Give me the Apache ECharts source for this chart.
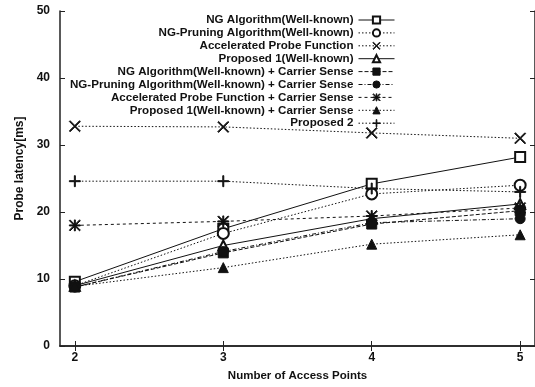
<!DOCTYPE html>
<html><head><meta charset="utf-8">
<script src="https://cdn.jsdelivr.net/npm/echarts@6/dist/echarts.min.js"></script>
<style>html,body{margin:0;padding:0;background:#fff}#c{width:535px;height:387px}</style>
</head><body><div id="c"></div>
<script>
const accessPoints = [2, 3, 4, 5];
const seriesNames = [
  'NG Algorithm(Well-known)',
  'NG-Pruning Algorithm(Well-known)',
  'Accelerated Probe Function',
  'Proposed 1(Well-known)',
  'NG Algorithm(Well-known) + Carrier Sense',
  'NG-Pruning Algorithm(Well-known) + Carrier Sense',
  'Accelerated Probe Function + Carrier Sense',
  'Proposed 1(Well-known) + Carrier Sense',
  'Proposed 2'
];
const ngAlg        = [9.6, 17.5, 24.2, 28.2];
const ngPruning    = [9.0, 16.8, 22.7, 24.0];
const accelProbe   = [32.8, 32.7, 31.8, 31.0];
const proposed1    = [9.0, 15.0, 19.0, 21.2];
const ngAlgCS      = [8.8, 13.9, 18.2, 20.2];
const ngPruningCS  = [8.8, 14.1, 18.4, 19.0];
const accelProbeCS = [18.0, 18.6, 19.4, 20.6];
const proposed1CS  = [8.9, 11.7, 15.2, 16.6];
const proposed2    = [24.6, 24.6, 23.5, 23.0];
const yTicks = [0, 10, 20, 30, 40, 50];

const values = [ngAlg, ngPruning, accelProbe, proposed1, ngAlgCS, ngPruningCS, accelProbeCS, proposed1CS, proposed2];

const X_PATH = 'path://M0,0.7 L0.7,0 L5,4.3 L9.3,0 L10,0.7 L5.7,5 L10,9.3 L9.3,10 L5,5.7 L0.7,10 L0,9.3 L4.3,5 Z';
const PLUS_PATH = 'path://M4.55,0 L5.45,0 L5.45,4.55 L10,4.55 L10,5.45 L5.45,5.45 L5.45,10 L4.55,10 L4.55,5.45 L0,5.45 L0,4.55 L4.55,4.55 Z';
const STAR_PATH = 'path://M0,0.7 L0.7,0 L5,4.3 L9.3,0 L10,0.7 L5.7,5 L10,9.3 L9.3,10 L5,5.7 L0.7,10 L0,9.3 L4.3,5 Z M4.55,0 L5.45,0 L5.45,4.55 L10,4.55 L10,5.45 L5.45,5.45 L5.45,10 L4.55,10 L4.55,5.45 L0,5.45 L0,4.55 L4.55,4.55 Z';

const styles = [
  {symbol: 'emptyRect', size: 10, dash: 'solid'},
  {symbol: 'emptyCircle', size: 11, dash: [1.5, 2]},
  {symbol: X_PATH, size: 11, dash: [1.5, 2]},
  {symbol: 'emptyTriangle', size: 10, dash: 'solid'},
  {symbol: 'rect', size: 10, dash: [4, 2]},
  {symbol: 'circle', size: 10, dash: [4, 2, 1, 2]},
  {symbol: STAR_PATH, size: 11, dash: [3, 3]},
  {symbol: 'triangle', size: 10, dash: [1.5, 2]},
  {symbol: PLUS_PATH, size: 11, dash: [1.5, 2]}
];

const series = seriesNames.map((name, i) => ({
  name: name,
  type: 'line',
  data: accessPoints.map((x, j) => [x, values[i][j]]),
  symbol: styles[i].symbol,
  symbolSize: styles[i].size,
  showAllSymbol: true,
  lineStyle: {color: '#111', width: 1, type: styles[i].dash},
  itemStyle: {color: '#111', borderColor: '#111', borderWidth: 1},
  emphasis: {disabled: true},
  z: 3
}));

const chart = echarts.init(document.getElementById('c'), null, {renderer: 'canvas'});
const fontFam = '"Liberation Sans", Arial, sans-serif';
chart.setOption({
  animation: false,
  backgroundColor: '#fff',
  textStyle: {fontFamily: fontFam},
  grid: {left: 60, top: 11, width: 478, height: 335, containLabel: false},
  legend: {
    orient: 'vertical',
    right: 140,
    top: 14,
    align: 'right',
    itemWidth: 36,
    itemHeight: 9,
    itemGap: 0.9,
    textStyle: {fontSize: 11.6, lineHeight: 11, fontWeight: 'bold', color: '#111', fontFamily: fontFam, padding: 0},
    lineStyle: {width: 1},
    itemStyle: {borderWidth: 1},
    padding: 0,
    data: seriesNames
  },
  xAxis: [{
    type: 'value', min: 1.9, max: 5.1,
    name: 'Number of Access Points', nameLocation: 'middle', nameGap: 24,
    nameTextStyle: {fontSize: 11.5, fontWeight: 'bold', color: '#111'},
    axisLine: {show: true, onZero: false, lineStyle: {color: '#222', width: 1.5}},
    axisTick: {show: true, inside: true, length: 5, customValues: accessPoints, lineStyle: {color: '#222'}},
    axisLabel: {customValues: accessPoints, fontSize: 12, fontWeight: 'bold', color: '#111', margin: 6},
    splitLine: {show: false}
  }, {
    type: 'value', min: 1.9, max: 5.1, position: 'top',
    axisLine: {show: true, lineStyle: {color: '#222', width: 1.5}},
    axisTick: {show: true, inside: true, length: 5, customValues: accessPoints, lineStyle: {color: '#222'}},
    axisLabel: {show: false}, splitLine: {show: false}
  }],
  yAxis: [{
    type: 'value', min: 0, max: 50, interval: 10,
    name: 'Probe latency[ms]', nameLocation: 'middle', nameGap: 33,
    nameTextStyle: {fontSize: 12, fontWeight: 'bold', color: '#111', padding: [0, 0, 0, 20]},
    axisLine: {show: true, lineStyle: {color: '#222', width: 1.5}},
    axisTick: {show: true, inside: true, length: 5, lineStyle: {color: '#222'}},
    axisLabel: {fontSize: 12, fontWeight: 'bold', color: '#111', margin: 10},
    splitLine: {show: false}
  }, {
    type: 'value', min: 0, max: 50, interval: 10, position: 'right',
    axisLine: {show: true, lineStyle: {color: '#222', width: 1.5}},
    axisTick: {show: true, inside: true, length: 5, lineStyle: {color: '#222'}},
    axisLabel: {show: false}, splitLine: {show: false}
  }],
  series: series
});
</script></body></html>
